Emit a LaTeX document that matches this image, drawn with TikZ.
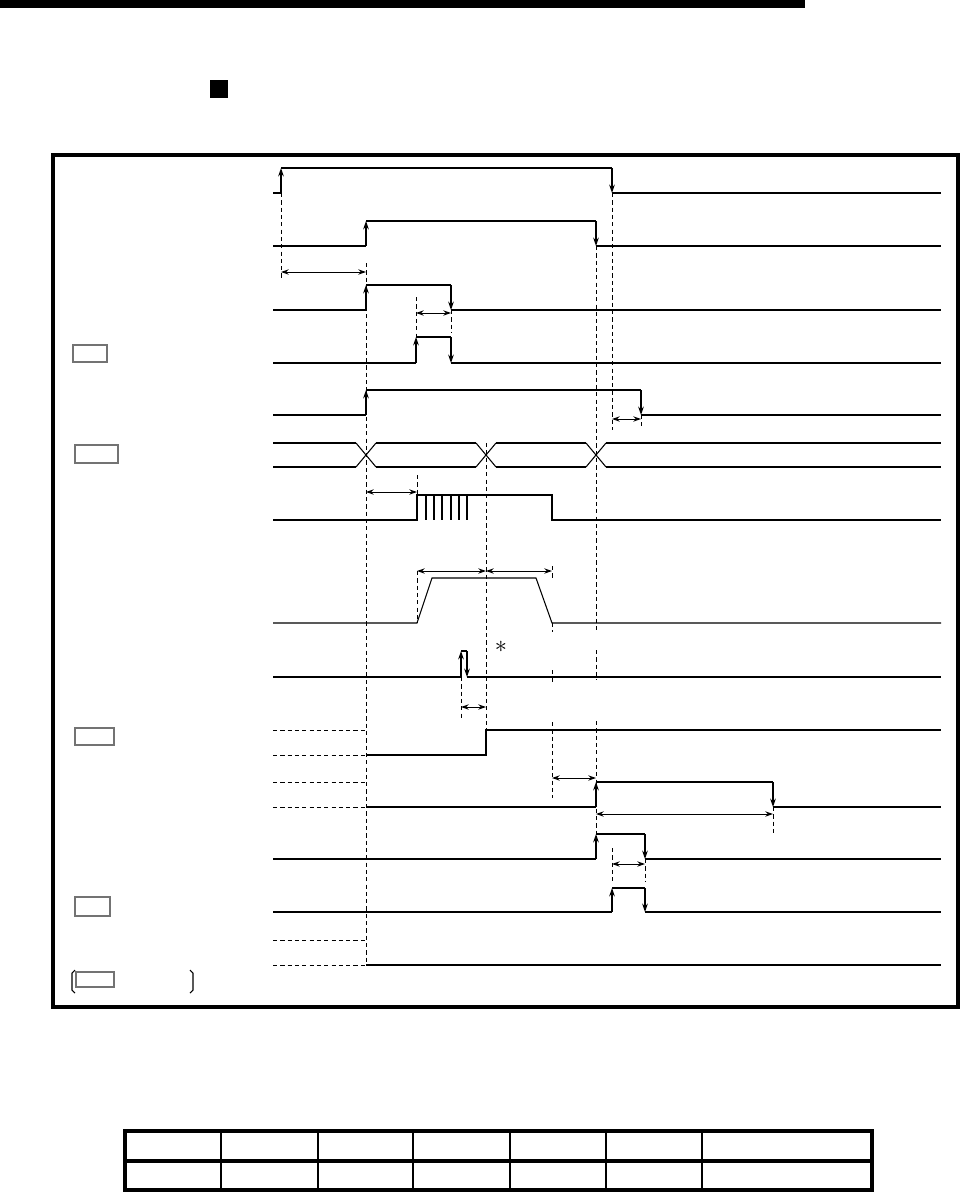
\documentclass[tikz,border=0pt]{standalone}
\usetikzlibrary{arrows.meta}

\tikzset{
    wave/.style       = {line width=0.75pt},
    heavy/.style      = {line width=1.5pt},
    flank/.style      = {-{Stealth[length=6pt,width=4pt]}, line width=0.75pt},
    heavyflank/.style = {flank, line width=1.5pt},
    guide/.style      = {dash pattern=on 3pt off 2.2pt, line width=0.7pt},
    span/.style       = {{Stealth[length=5.5pt,width=3.8pt]}-{Stealth[length=5.5pt,width=3.8pt]}, line width=0.7pt},
    tagbox/.style     = {rectangle, draw=black!55, fill=white, line width=0.8pt, inner sep=0pt}
}

\begin{document}
\begin{tikzpicture}[
        x=0.025cm, y=-0.025cm,
        frame/.style={line width=2.2pt},
        cell/.style={line width=0.75pt}
    ]
    \useasboundingbox (0,0) rectangle (961,1192);

    % --- Page marks and frame ---
    \fill (0,0) rectangle (805,8);
    \fill (210,80) rectangle (228,98);
    \draw[frame] (53,155) rectangle (958,1007);

    % --- Label boxes ---
    \node[tagbox, minimum width=0.85cm, minimum height=0.425cm] (tag_a) at (90,353.5) {};
    \node[tagbox, minimum width=1.075cm, minimum height=0.45cm] (tag_b) at (96.5,454) {};
    \node[tagbox, minimum width=0.975cm, minimum height=0.425cm] (tag_c) at (94.5,736.5) {};
    \node[tagbox, minimum width=0.875cm, minimum height=0.475cm] (tag_d) at (92.5,906.5) {};
    \node[tagbox, minimum width=0.95cm, minimum height=0.375cm] (tag_e) at (95,979.5) {};
    \draw[wave] (75,970) -- (72,973) -- (72,990) -- (75,993);
    \draw[wave] (190,970) -- (193,973) -- (193,990) -- (190,993);

    % --- Timing guides ---
    \draw[guide] (281,193) -- (281,280);
    \draw[guide] (366,263) -- (366,965);
    \draw[guide] (416,297) -- (416,337);
    \draw[guide] (451,310) -- (451,333);
    \draw[guide] (612,193) -- (612,430);
    \draw[guide] (641,415) -- (641,426);
    \draw[guide] (486,443) -- (486,730);
    \draw[guide] (596,246) -- (596,630) (596,650) -- (596,680) (596,721) -- (596,834);
    \draw[guide] (417,475) -- (417,495);
    \draw[guide] (417,571) -- (417,623);
    \draw[guide] (552,566) -- (552,578) (552,623) -- (552,632) (552,670) -- (552,682) (552,722) -- (552,798);
    \draw[guide] (461,677) -- (461,720);
    \draw[guide] (773,807) -- (773,833);
    \draw[guide] (612,848) -- (612,882);
    \draw[guide] (645,859) -- (645,882);
    \draw[guide] (273,730) -- (366,730) (273,755) -- (366,755);
    \draw[guide] (273,782) -- (366,782) (273,807) -- (366,807);
    \draw[guide] (273,940) -- (366,940) (273,965) -- (366,965);

    % --- Row 1 ---
    \draw[heavy] (273,193) -- (281,193);
    \draw[heavyflank] (281,193) -- (281,168);
    \draw[wave] (281,168) -- (612,168);
    \draw[flank] (612,168) -- (612,193);
    \draw[heavy] (612,193) -- (941,193);

    % --- Row 2 ---
    \draw[heavy] (273,246) -- (366,246);
    \draw[flank] (366,246) -- (366,221);
    \draw[wave] (366,221) -- (596,221);
    \draw[heavyflank] (596,221) -- (596,246);
    \draw[heavy] (596,246) -- (941,246);
    \draw[span] (281,272) -- (366,272);

    % --- Row 3 ---
    \draw[wave] (273,310) -- (366,310) (366,285) -- (451,285) (451,310) -- (941,310);
    \draw[flank] (366,310) -- (366,285);
    \draw[flank] (451,285) -- (451,310);
    \draw[span] (416,313) -- (451,313);

    % --- Row 4 ---
    \draw[heavy] (273,363) -- (416,363) (451,363) -- (941,363);
    \draw[wave] (416,337) -- (451,337);
    \draw[flank] (416,363) -- (416,337);
    \draw[flank] (451,337) -- (451,363);

    % --- Row 5 ---
    \draw[wave] (273,415) -- (366,415) (366,390) -- (641,390) (641,415) -- (941,415);
    \draw[flank] (366,415) -- (366,390);
    \draw[heavyflank] (641,390) -- (641,415);
    \draw[span] (612,419) -- (641,419);

    % --- Row 6 (bus) ---
    \foreach \a/\b in {273/356, 376/476, 496/586, 606/941} {
        \draw[wave] (\a,443) -- (\b,443);
        \draw[heavy] (\a,467) -- (\b,467);
    }
    \foreach \c in {366, 486, 596}
        \draw[wave] (\c-10,443) -- (\c+10,467) (\c-10,467) -- (\c+10,443);

    % --- Row 7 (pulse train) ---
    \draw[wave] (273,520) -- (417,520) -- (417,495) -- (552,495) -- (552,520) -- (941,520);
    \foreach \x in {426,434,442,451,459,467}
        \draw[wave] (\x,495) -- (\x,520);
    \draw[span] (366,492) -- (417,492);

    % --- Row 8 (speed profile) ---
    \draw[wave] (273,623) -- (417,623) -- (432,578) -- (536,578) -- (552,623) -- (941,623);
    \draw[span] (417,571) -- (486,571);
    \draw[span] (486,571) -- (552,571);

    % --- Row 9 ---
    \draw[wave] (273,677) -- (461,677) (461,651) -- (467,651) (467,677) -- (941,677);
    \draw[flank] (461,677) -- (461,651);
    \draw[flank] (467,651) -- (467,677);
    \node[inner sep=0pt, font=\LARGE] (note) at (501,647) {$\ast$};
    \draw[span] (461,707) -- (486,707);

    % --- Row 10 ---
    \draw[wave] (366,755) -- (486,755) -- (486,730) -- (941,730);

    % --- Row 11 ---
    \draw[wave] (366,807) -- (596,807) (596,782) -- (773,782) (773,807) -- (941,807);
    \draw[heavyflank] (596,807) -- (596,782);
    \draw[heavyflank] (773,782) -- (773,807);
    \draw[span] (552,778) -- (596,778);
    \draw[span] (596,814) -- (773,814);

    % --- Row 12 ---
    \draw[wave] (273,859) -- (596,859) (596,834) -- (645,834) (645,859) -- (941,859);
    \draw[heavyflank] (596,859) -- (596,834);
    \draw[flank] (645,834) -- (645,859);
    \draw[span] (612,864) -- (645,864);

    % --- Row 13 ---
    \draw[wave] (273,912) -- (612,912) (612,888) -- (645,888) (645,912) -- (941,912);
    \draw[flank] (612,912) -- (612,888);
    \draw[flank] (645,888) -- (645,912);

    % --- Row 14 ---
    \draw[wave] (366,965) -- (941,965);

    % --- Table ---
    \draw[frame] (125,1131) rectangle (872,1190);
    \draw[frame] (125,1161) -- (872,1161);
    \foreach \x in {221,318,413,510,606,702}
        \draw[cell] (\x,1131) -- (\x,1190);
\end{tikzpicture}
\end{document}
